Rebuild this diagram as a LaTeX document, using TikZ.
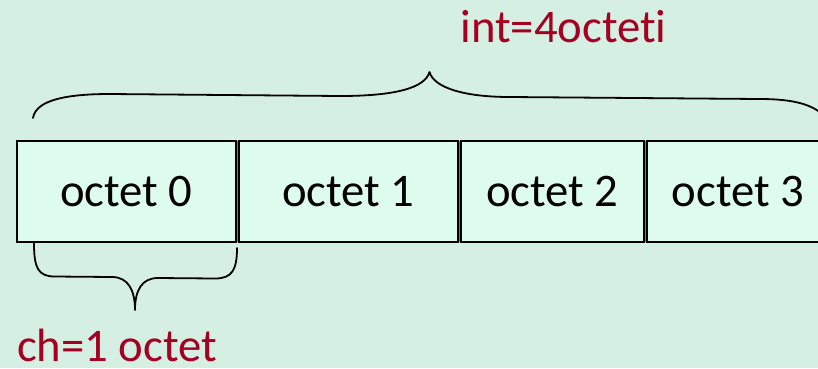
\documentclass[tikz,border=0pt]{standalone}
\usepackage{fontspec}
\setmainfont{Carlito}[Ligatures={NoCommon}]
\definecolor{bgmint}{RGB}{213,240,226}
\definecolor{cellmint}{RGB}{222,252,238}
\definecolor{gapgray}{RGB}{110,125,115}
\definecolor{labelred}{RGB}{165,0,33}
\begin{document}
\begin{tikzpicture}[x=1pt,y=-1pt,
  cell/.style={draw=black, line width=1.5pt, fill=cellmint, inner sep=0pt,
    minimum height=101pt, font=\fontsize{46.7}{56}\selectfont},
  label/.style={text=labelred, inner sep=0pt, anchor=base, text depth=0pt,
    font=\fontsize{46.7}{56}\selectfont},
  brace/.style={draw=black, line width=1.8pt, line cap=round, line join=round}]
  % canvas
  \fill[bgmint] (0,0) rectangle (818,368);
  \useasboundingbox (0,0) rectangle (818,368);
  \begin{scope}
    \clip (0,0) rectangle (818,368);
    % dark strip showing through the gaps between the cells
    \fill[gapgray] (17,141) rectangle (830,242);
    % the four bytes
    \node[cell, minimum width=219pt] (o0) at (126.5,191.5) {octet 0};
    \node[cell, minimum width=219pt] (o1) at (348.5,191.5) {octet 1};
    \node[cell, minimum width=183pt] (o2) at (552.5,191.5) {octet 2};
    \node[cell, minimum width=182pt] (o3) at (738,191.5) {octet 3};
    % brace over the whole int
    \draw[brace] (33,118) .. controls (36,99) and (70,94) .. (110,94)
      -- (340,96) .. controls (395,96) and (425,88) .. (429.5,72)
      .. controls (434,88) and (465,97) .. (510,97)
      -- (760,99) .. controls (795,99) and (815,105) .. (826,118);
  \end{scope}
  % brace under a single char
  \draw[brace] (34,243) .. controls (34,268) and (38,276.5) .. (55,276.5)
    -- (112,277) .. controls (128,277) and (135,290) .. (135,310)
    .. controls (135,290) and (142,278) .. (158,278)
    -- (215,278.5) .. controls (232,278.5) and (237,270) .. (237,248);
  % size labels
  \node[label] (lint) at (563.5,42) {int=4octeti};
  \node[label] (lch) at (117,361) {ch=1 octet};
\end{tikzpicture}
\end{document}
